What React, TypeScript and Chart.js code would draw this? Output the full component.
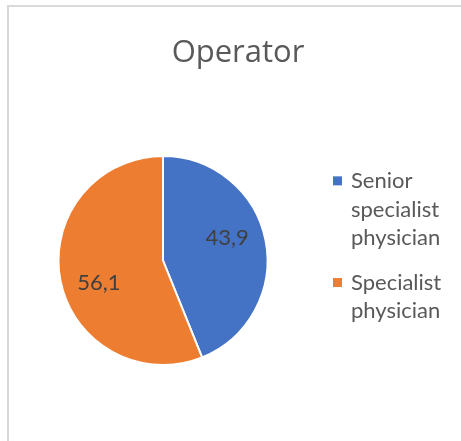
import React, { useEffect, useRef } from 'react';
import { Chart, registerables, layouts } from 'chart.js';

Chart.register(...registerables);

// ---- data ----
const TITLE = 'Operator';
const categories: string[] = ['Senior specialist physician', 'Specialist physician'];
const values: number[] = [43.9, 56.1];
const colors: string[] = ['#4472C4', '#ED7D31'];

const formatValue = (v: number) => v.toFixed(1).replace('.', ',');

// ---- style constants ----
const TEXT_GRAY = '#595959';
const LABEL_GRAY = '#404040';
const LEGEND_FONT = '22px Lato, Carlito, sans-serif';
const LEGEND_WIDTH = 150;
const LEGEND_LINE_H = 28.3;
const LEGEND_GAP = 16.8;
const LEGEND_MAX_TEXT = 100;

function wrapText(ctx: CanvasRenderingContext2D, text: string, maxW: number): string[] {
  const words = text.split(' ');
  const lines: string[] = [];
  let cur = '';
  for (const w of words) {
    const t = cur ? cur + ' ' + w : w;
    if (cur && ctx.measureText(t).width > maxW) {
      lines.push(cur);
      cur = w;
    } else {
      cur = t;
    }
  }
  if (cur) lines.push(cur);
  return lines;
}

const sideLegendPlugin: any = {
  id: 'sideLegend',
  start(chart: any) {
    const box: any = {
      position: 'right',
      weight: 1000,
      fullSize: false,
      options: {},
      left: 0, top: 0, right: 0, bottom: 0, width: 0, height: 0,
      isHorizontal: () => false,
      update(maxWidth: number, maxHeight: number) {
        box.width = Math.min(LEGEND_WIDTH, maxWidth);
        box.height = maxHeight;
      },
      draw() {
        const ctx: CanvasRenderingContext2D = chart.ctx;
        const labels = chart.data.labels as string[];
        const bg = chart.data.datasets[0].backgroundColor as string[];
        ctx.save();
        ctx.font = LEGEND_FONT;
        ctx.textAlign = 'left';
        ctx.textBaseline = 'alphabetic';
        const wrapped = labels.map((l) => wrapText(ctx, l, LEGEND_MAX_TEXT));
        const nLines = wrapped.reduce((s, l) => s + l.length, 0);
        const total = nLines * LEGEND_LINE_H + (wrapped.length - 1) * LEGEND_GAP;
        let y = box.top + (box.height - total) / 2 + 7;
        wrapped.forEach((lines, i) => {
          ctx.fillStyle = bg[i];
          ctx.fillRect(box.left + 16, y - 12, 9, 9);
          ctx.fillStyle = TEXT_GRAY;
          lines.forEach((t, j) => ctx.fillText(t, box.left + 34, y + j * LEGEND_LINE_H));
          y += lines.length * LEGEND_LINE_H + LEGEND_GAP;
        });
        ctx.restore();
      },
    };
    chart.$sideLegend = box;
    layouts.addBox(chart, box);
  },
  stop(chart: any) {
    if (chart.$sideLegend) layouts.removeBox(chart, chart.$sideLegend);
  },
};

const ANGLE_SHIFT = -0.14;
const LABEL_RADIUS = 0.65;

const valueLabelPlugin: any = {
  id: 'valueLabels',
  afterDatasetsDraw(chart: any) {
    const ctx: CanvasRenderingContext2D = chart.ctx;
    const meta = chart.getDatasetMeta(0);
    const data = chart.data.datasets[0].data as number[];
    ctx.save();
    ctx.font = '22px Lato, Carlito, sans-serif';
    ctx.fillStyle = LABEL_GRAY;
    ctx.textAlign = 'center';
    ctx.textBaseline = 'middle';
    meta.data.forEach((arc: any, i: number) => {
      const p = arc.getProps(['x', 'y', 'startAngle', 'endAngle', 'outerRadius'], true);
      const mid = (p.startAngle + p.endAngle) / 2 + ANGLE_SHIFT;
      const r = p.outerRadius * LABEL_RADIUS;
      ctx.fillText(formatValue(data[i]), p.x + Math.cos(mid) * r, p.y + Math.sin(mid) * r);
    });
    ctx.restore();
  },
};

export default function App() {
  const canvasRef = useRef<HTMLCanvasElement | null>(null);

  useEffect(() => {
    if (!canvasRef.current) return;
    const chart = new Chart(canvasRef.current, {
      type: 'pie',
      data: {
        labels: categories,
        datasets: [
          {
            data: values,
            backgroundColor: colors,
            borderColor: '#ffffff',
            borderWidth: 2,
            hoverOffset: 0,
          },
        ],
      },
      options: {
        responsive: false,
        animation: false,
        events: [],
        layout: { padding: { top: 0, left: 0, right: 2, bottom: 81 } },
        plugins: {
          legend: { display: false },
          tooltip: { enabled: false },
          title: {
            display: true,
            text: TITLE,
            color: TEXT_GRAY,
            font: { family: "'Open Sans', 'Noto Sans', sans-serif", size: 31, weight: 'normal' },
            padding: { top: 28, bottom: 82.8 },
          },
        },
      },
      plugins: [sideLegendPlugin, valueLabelPlugin],
    } as any);
    return () => chart.destroy();
  }, []);

  return (
    <div style={{ position: 'fixed', inset: 0, overflow: 'hidden', background: '#ffffff' }}>
      <div
        style={{
          position: 'absolute',
          left: 7,
          top: 5,
          width: 470,
          height: 450,
          borderLeft: '2px solid #d9d9d9',
          borderTop: '2px solid #d9d9d9',
        }}
      >
        <canvas ref={canvasRef} width={460} height={440} style={{ display: 'block', width: 460, height: 440 }} />
      </div>
    </div>
  );
}
